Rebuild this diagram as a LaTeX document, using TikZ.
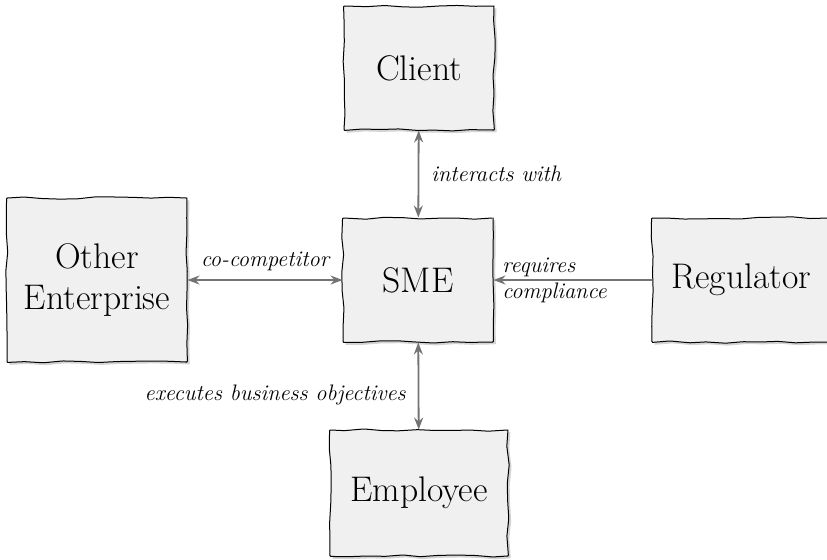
\documentclass[tikz,border=0pt]{standalone}
\usetikzlibrary{arrows.meta,decorations.pathmorphing,shadows,positioning}

\begin{document}
\begin{tikzpicture}[x=0.5pt, y=-0.5pt,
  every node/.style={inner sep=1pt},
  party/.style={draw=black, line width=0.5pt, fill=gray!12, align=center,
    font=\fontsize{17.8}{20.5}\selectfont, minimum height=62pt,
    decoration={random steps, segment length=9pt, amplitude=0.6pt},
    decorate, rounded corners=0.4pt,
    drop shadow={shadow xshift=1.2pt, shadow yshift=-1.2pt, opacity=0.35}},
  link/.style={draw=gray!90!black, line width=0.9pt},
  tag/.style={font=\fontsize{11.2}{13}\selectfont\itshape}]
  \pgfmathsetseed{7}
  \useasboundingbox (0,0) rectangle (827,559);
  \node[party, minimum width=75pt] (client) at (419, 68) {Client};
  \node[party, minimum width=75pt] (sme) at (418, 280) {SME};
  \node[party, minimum width=90pt, minimum height=82pt] (other) at (97, 280) {Other\\Enterprise};
  \node[party, minimum width=89pt] (regulator) at (741, 280) {Regulator};
  \node[party, minimum width=89pt, minimum height=63pt] (employee) at (419, 493) {Employee};
  \draw[link, {Stealth[length=6pt]}-{Stealth[length=6pt]}] (client) -- node[tag, right=5pt] {interacts with} (sme);
  \draw[link, {Stealth[length=6pt]}-{Stealth[length=6pt]}] (other) -- node[tag, above=3pt] {co-competitor} (sme);
  \draw[link, -{Stealth[length=6pt]}] (regulator) -- node[tag, pos=1, above right=0pt and 3pt] {requires}
    node[tag, pos=1, below right=0pt and 3pt] {compliance} (sme);
  \draw[link, {Stealth[length=6pt]}-{Stealth[length=6pt]}] (sme) -- node[tag, pos=0.6, left=5pt] {executes business objectives} (employee);
\end{tikzpicture}
\end{document}
